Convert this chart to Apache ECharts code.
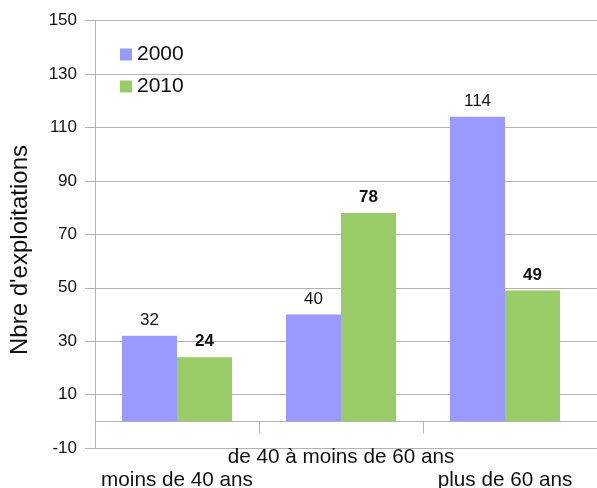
<!DOCTYPE html>
<html>
<head>
<meta charset="utf-8">
<script src="https://cdn.jsdelivr.net/npm/echarts@6/dist/echarts.min.js"></script>
<style>html,body{margin:0;padding:0;background:#fff}#c{width:597px;height:488px}</style>
</head>
<body>
<div id="c"></div>
<script>
const categories = ['moins de 40 ans', 'de 40 à moins de 60 ans', 'plus de 60 ans'];
const values2000 = [32, 40, 114];
const values2010 = [24, 78, 49];
const seriesNames = ['2000', '2010'];
const yMin = -10, yMax = 150, yStep = 20;
const yTitle = "Nbre d'exploitations";

const FONT = '"Liberation Sans", Arial, sans-serif';
const GRID_COL = '#b3b3b3';
const TXT = '#111';

const chart = echarts.init(document.getElementById('c'), null, {renderer: 'canvas'});
const gridTop = 20.7, gridBottom = 40, gridLeft = 95;

chart.setOption({
  animation: false,
  textStyle: {fontFamily: FONT},
  grid: [
    {left: gridLeft, right: 10, top: gridTop, bottom: gridBottom, containLabel: false, outerBoundsMode: 'none'},
    {left: gridLeft, right: 0, top: gridTop, bottom: gridBottom, containLabel: false, outerBoundsMode: 'none'}
  ],
  legend: {
    orient: 'vertical', left: 115, top: 39, itemWidth: 12, itemHeight: 12, itemGap: 11,
    icon: 'rect',
    textStyle: {fontSize: 21, color: TXT, fontFamily: FONT},
    data: seriesNames
  },
  xAxis: [
    {
      type: 'category', gridIndex: 0, data: categories, position: 'bottom',
      axisLine: {show: false, onZero: false}, axisTick: {show: false},
      axisLabel: {
        interval: 0, fontSize: 20.7, color: TXT, fontFamily: FONT, lineHeight: 23, margin: -2,
        formatter: (v, i) => (i % 2 === 1 ? v : '\n' + v)
      },
      splitLine: {show: false}
    },
    {
      type: 'category', gridIndex: 1, data: categories, position: 'bottom',
      axisLine: {show: true, onZero: true, lineStyle: {color: GRID_COL, width: 1}},
      axisTick: {show: false}, axisLabel: {show: false}, splitLine: {show: false}
    },
    {
      type: 'value', gridIndex: 0, min: 0, max: categories.length, interval: 1, position: 'bottom',
      axisLine: {show: false, onZero: true},
      axisTick: {show: true, inside: false, length: 12, customValues: [1, 2], lineStyle: {color: GRID_COL}},
      axisLabel: {show: false}, splitLine: {show: false}
    }
  ],
  yAxis: [
    {
      type: 'value', gridIndex: 0, min: yMin, max: yMax, interval: yStep,
      axisLine: {show: true, lineStyle: {color: GRID_COL, width: 1}},
      axisTick: {show: true, length: 10, lineStyle: {color: GRID_COL}},
      axisLabel: {fontSize: 17, color: TXT, fontFamily: FONT, margin: 18},
      splitLine: {show: false}
    },
    {
      type: 'value', gridIndex: 1, min: yMin, max: yMax, interval: yStep,
      axisLine: {show: false}, axisTick: {show: false}, axisLabel: {show: false},
      splitLine: {show: true, lineStyle: {color: GRID_COL, width: 1}}
    }
  ],
  graphic: [{
    type: 'text', x: 20, y: 250, rotation: Math.PI / 2,
    style: {text: yTitle, fontSize: 24, fontFamily: FONT, fill: TXT, align: 'center', verticalAlign: 'middle'}
  }],
  series: [
    {
      name: seriesNames[0], type: 'bar', xAxisIndex: 0, yAxisIndex: 0, data: values2000,
      barWidth: 55, barGap: '0%', itemStyle: {color: '#9999ff'},
      label: {show: true, position: 'top', distance: 7, fontSize: 17, color: TXT, fontFamily: FONT}
    },
    {
      name: seriesNames[1], type: 'bar', xAxisIndex: 0, yAxisIndex: 0, data: values2010,
      barWidth: 55, barGap: '0%', itemStyle: {color: '#99cc66'},
      label: {show: true, position: 'top', distance: 7, fontSize: 17, fontWeight: 'bold', color: TXT, fontFamily: FONT}
    }
  ]
});
</script>
</body>
</html>
